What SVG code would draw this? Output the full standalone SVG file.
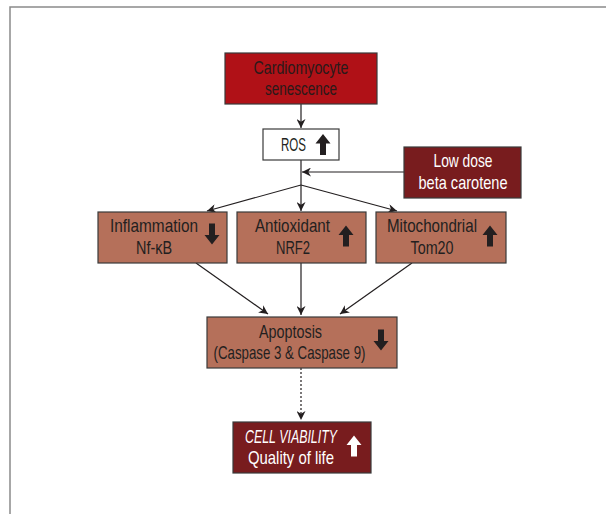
<svg xmlns="http://www.w3.org/2000/svg" width="606" height="514" viewBox="0 0 606 514">
<style>
.t{font-family:"Liberation Sans",Arial,sans-serif;font-size:18.5px;text-anchor:middle}
.d{fill:#231f20}.w{fill:#ffffff}
.box{stroke:#3a3a3a;stroke-width:1.2}
.c{stroke:#231f20;stroke-width:1.2;fill:none}
</style>
<defs>
<marker id="ah" viewBox="0 0 10 10" refX="10" refY="5" markerWidth="9" markerHeight="9" markerUnits="userSpaceOnUse" orient="auto">
<path d="M0,0 L10,5 L0,10 L3,5 z" fill="#231f20"/>
</marker>
<path id="up" d="M0,-10.5 L7.5,-1 L3,-1 L3,10.5 L-3,10.5 L-3,-1 L-7.5,-1 z"/>
<path id="dn" d="M0,10.5 L7.5,1 L3,1 L3,-10.5 L-3,-10.5 L-3,1 L-7.5,1 z"/>
</defs>
<path d="M10,514 L10,7 L606,7" fill="none" stroke="#8a8a8a" stroke-width="1.5"/>
<g id="connectors">
<line class="c" x1="301" y1="104" x2="301" y2="128" marker-end="url(#ah)"/>
<line class="c" x1="301" y1="160" x2="301" y2="185"/>
<line class="c" x1="404" y1="172" x2="302" y2="172" marker-end="url(#ah)"/>
<line class="c" x1="301" y1="185" x2="207" y2="211" marker-end="url(#ah)"/>
<line class="c" x1="301" y1="185" x2="301" y2="211" marker-end="url(#ah)"/>
<line class="c" x1="301" y1="185" x2="397" y2="211" marker-end="url(#ah)"/>
<line class="c" x1="196" y1="263" x2="268" y2="314" marker-end="url(#ah)"/>
<line class="c" x1="301" y1="263" x2="301" y2="315" marker-end="url(#ah)"/>
<line class="c" x1="412" y1="263" x2="340" y2="314" marker-end="url(#ah)"/>
<line class="c" x1="301" y1="368" x2="301" y2="420" stroke-dasharray="2,2" marker-end="url(#ah)"/>
</g>
<g id="cardio">
<rect class="box" x="225" y="53" width="152" height="51" fill="#b01117"/>
<text class="t" x="301" y="73.5" fill="#2a1a1a" textLength="95" lengthAdjust="spacingAndGlyphs">Cardiomyocyte</text>
<text class="t" x="301" y="95" fill="#2a1a1a" textLength="72" lengthAdjust="spacingAndGlyphs">senescence</text>
</g>
<g id="ros">
<rect class="box" x="263" y="129" width="76" height="31" fill="#ffffff"/>
<text class="t" x="293.5" y="151" fill="#231f20" textLength="25" lengthAdjust="spacingAndGlyphs">ROS</text>
<use href="#up" x="323" y="144.5" class="d"/>
</g>
<g id="lowdose">
<rect class="box" x="404" y="147" width="117" height="51" fill="#781c1e"/>
<text class="t" x="463" y="167" fill="#ffffff" textLength="59" lengthAdjust="spacingAndGlyphs">Low dose</text>
<text class="t" x="463" y="189" fill="#ffffff" textLength="89" lengthAdjust="spacingAndGlyphs">beta carotene</text>
</g>
<g id="inflammation">
<rect class="box" x="98" y="212" width="129" height="51" fill="#b5705a"/>
<text class="t" x="154" y="232" fill="#231f20" textLength="88" lengthAdjust="spacingAndGlyphs">Inflammation</text>
<text class="t" x="154" y="254" fill="#231f20" textLength="36" lengthAdjust="spacingAndGlyphs">Nf-κB</text>
<use href="#dn" x="212" y="234" class="d"/>
</g>
<g id="antioxidant">
<rect class="box" x="237" y="212" width="129" height="51" fill="#b5705a"/>
<text class="t" x="292.5" y="232" fill="#231f20" textLength="75" lengthAdjust="spacingAndGlyphs">Antioxidant</text>
<text class="t" x="293" y="254" fill="#231f20" textLength="34" lengthAdjust="spacingAndGlyphs">NRF2</text>
<use href="#up" x="346" y="236" class="d"/>
</g>
<g id="mitochondrial">
<rect class="box" x="376" y="212" width="130" height="51" fill="#b5705a"/>
<text class="t" x="432" y="232" fill="#231f20" textLength="90" lengthAdjust="spacingAndGlyphs">Mitochondrial</text>
<text class="t" x="432" y="254" fill="#231f20" textLength="43" lengthAdjust="spacingAndGlyphs">Tom20</text>
<use href="#up" x="490" y="236" class="d"/>
</g>
<g id="apoptosis">
<rect class="box" x="207" y="317" width="190" height="51" fill="#b5705a"/>
<text class="t" x="290.5" y="338" fill="#231f20" textLength="63" lengthAdjust="spacingAndGlyphs">Apoptosis</text>
<text class="t" x="289.5" y="359" fill="#231f20" textLength="152" lengthAdjust="spacingAndGlyphs">(Caspase 3 &amp; Caspase 9)</text>
<use href="#dn" x="381" y="340" class="d"/>
</g>
<g id="viability">
<rect class="box" x="233" y="422" width="138" height="51" fill="#781c1e"/>
<text class="t" x="291" y="443" fill="#ffffff" font-style="italic" textLength="92" lengthAdjust="spacingAndGlyphs">CELL VIABILITY</text>
<text class="t" x="291" y="464" fill="#ffffff" textLength="86" lengthAdjust="spacingAndGlyphs">Quality of life</text>
<use href="#up" x="354" y="446" class="w"/>
</g>
</svg>
